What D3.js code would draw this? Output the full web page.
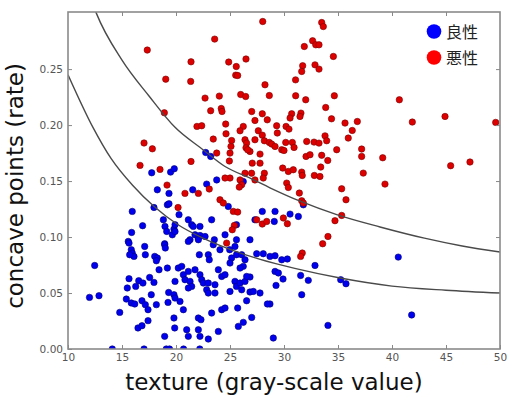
<!DOCTYPE html>
<html>
<head>
<meta charset="utf-8">
<script src="https://cdn.jsdelivr.net/npm/d3@7"></script>
<style>
  body { margin: 0; background: #fff; }
  svg { display: block; }
</style>
</head>
<body>
<div id="chart"></div>
<script>
// axis ticks
const xTicks = [10, 15, 20, 25, 30, 35, 40, 45, 50];
const yTicks = [0, 0.05, 0.10, 0.15, 0.20, 0.25];
const legendLabels = ["良性", "悪性"];

// benign (blue) points: [texture, concave points]
const benign = [
  [22.75,0.1755],[23.21,0.172],[17.75,0.1574],[19.5,0.158],[19.84,0.161],[18.27,0.1422],[19.35,0.139],
  [21.55,0.1422],[22.84,0.1473],[23.77,0.151],[26.23,0.1496],[19.2,0.1288],[19.35,0.1297],[17.96,0.1264],
  [15.95,0.1229],[16.91,0.1101],[15.89,0.1041],[19.81,0.1071],[19.66,0.102],[15.58,0.0961],[18.95,0.094],
  [24.84,0.1273],[27.99,0.1229],[27.31,0.1154],[29.1,0.1139],[25.6,0.111],[24.54,0.102],[23.55,0.0976],
  [21.14,0.1154],[21.45,0.111],[20.28,0.12],[23.3,0.1154],[26.85,0.0976],[19.91,0.111],[21.76,0.102],
  [22.22,0.1014],[22.69,0.1005],[22.07,0.0991],[21.3,0.0976],[19.91,0.105],[31.79,0.1288],[29.17,0.1229],
  [30.56,0.1205],[31.33,0.1184],[28.7,0.0827],[29.17,0.0833],[29.79,0.0797],[30.31,0.0804],[32.87,0.0746],
  [29.17,0.0693],[29.48,0.0679],[29.91,0.0625],[31.54,0.0657],[32.25,0.0613],[29.26,0.0568],[35.25,0.0619],
  [35.74,0.0583],[31.64,0.0485],[34.07,0.0211],[29.01,0.0098],[28.7,0.0402],[40.58,0.0821],[41.82,0.0304],
  [27.47,0.0851],[28.08,0.0851],[26.85,0.0643],[26.85,0.0509],[27.78,0.05],[28.46,0.0402],[27.01,0.0282],
  [12.47,0.0746],[11.99,0.0461],[12.87,0.0476],[14.79,0.0327],[15.65,0.0946],[15.86,0.0887],[15.95,0.0857],
  [16.11,0.0827],[15.71,0.0842],[17.1,0.0916],[17.16,0.0842],[18.03,0.0827],[18.27,0.0813],[18.18,0.0788],
  [18.95,0.0931],[19.01,0.0902],[18.43,0.0708],[19.2,0.0723],[15.65,0.0628],[16.55,0.061],[16.94,0.0589],
  [17.56,0.0639],[17.96,0.0595],[15.49,0.0545],[16.27,0.0559],[15.4,0.0446],[15.86,0.0411],[16.18,0.0402],
  [16.85,0.0431],[17.16,0.0396],[17.41,0.0351],[17.71,0.0485],[18.18,0.0396],[19.32,0.0505],[19.81,0.0485],
  [19.26,0.0416],[19.81,0.0277],[19.88,0.0188],[16.48,0.0188],[16.85,0.0208],[17.41,0.0253],[18.95,0.0113],
  [14.1,0.0],[17.04,0.0],[19.1,0.0],[19.4,0.0],[20.7,0.0],[22.2,0.0],
  [21.14,0.0961],[22.07,0.0976],[22.16,0.0842],[22.99,0.0842],[23.08,0.0797],[23.45,0.0931],[24.07,0.0887],
  [25.46,0.0916],[25.6,0.0842],[25.15,0.0813],[25.0,0.0768],[26.08,0.0842],[26.39,0.0797],[26.23,0.0738],
  [25.93,0.0723],[20.21,0.0723],[20.53,0.0738],[21.14,0.0693],[20.68,0.0663],[20.83,0.0619],[21.3,0.0604],
  [21.45,0.0559],[21.14,0.0545],[21.76,0.0708],[22.22,0.0663],[22.38,0.0619],[22.53,0.0589],[22.99,0.0589],
  [22.84,0.0529],[23.61,0.0574],[23.61,0.05],[22.99,0.05],[23.92,0.0708],[24.23,0.0648],[24.54,0.0663],
  [25.46,0.0604],[25.6,0.0559],[25.93,0.0589],[26.39,0.0604],[26.54,0.0648],[25.0,0.0514],[26.08,0.0529],
  [27.16,0.0514],[19.91,0.0604],[19.91,0.0455],[20.37,0.0425],[20.68,0.0351],[26.54,0.0431],[25.71,0.0366],
  [24.23,0.0351],[24.54,0.0366],[23.3,0.0321],[22.07,0.0277],[22.31,0.0262],[26.23,0.0238],[25.77,0.0202],
  [20.99,0.0172],[22.07,0.0172],[21.14,0.0113],[22.22,0.0113],[22.99,0.0089],[23.92,0.0157],
  [18.83,0.1154],[18.98,0.1095],[19.14,0.105],[21.6,0.1095],[22.22,0.1095],[25.6,0.0976],[24.97,0.0887]
];

// malignant (red) points
const malignant = [
  [17.34,0.267],[19.05,0.241],[18.92,0.211],[28.03,0.2925],[23.58,0.2768],[21.39,0.2565],[24.88,0.2563],
  [26.48,0.259],[25.58,0.2523],[25.53,0.2446],[25.71,0.2443],[21.36,0.239],[28.24,0.236],[28.64,0.2264],
  [22.69,0.2241],[24.01,0.2259],[25.99,0.2273],[26.45,0.2255],[23.21,0.2128],[24.19,0.2148],[24.26,0.2121],
  [27.01,0.2121],[27.99,0.2101],[28.45,0.2047],[27.31,0.2041],[21.94,0.1988],[22.38,0.1994],[24.6,0.2009],
  [26.23,0.1988],[17.04,0.184],[17.81,0.1788],[16.67,0.164],[18.52,0.1604],[21.39,0.1675],[19.17,0.1464],
  [20.83,0.139],[22.07,0.139],[23.08,0.1429],[23.45,0.1875],[24.63,0.1922],[23.77,0.175],[25.09,0.181],
  [25.0,0.175],[24.94,0.1679],[26.39,0.1869],[26.54,0.1839],[25.93,0.1949],[26.85,0.1764],[27.06,0.166],
  [27.0,0.157],[26.39,0.157],[25.0,0.1527],[24.54,0.1527],[25.93,0.151],[26.08,0.1467],[27.31,0.151],
  [27.62,0.1949],[27.99,0.191],[25.15,0.1862],[27.31,0.1869],[28.18,0.186],[28.64,0.1845],[26.48,0.1797],
  [26.64,0.1779],[27.78,0.1741],[27.78,0.166],[28.18,0.157],[28.08,0.1527],[25.86,0.1446],
  [20.19,0.1264],[24.07,0.1333],[24.38,0.1304],[25.31,0.1229],[25.71,0.1223],[27.47,0.1154],[27.99,0.1116],
  [28.4,0.1139],[25.4,0.1104],[25.21,0.1065],[24.69,0.0946],
  [33.49,0.2916],[33.64,0.288],[31.88,0.2702],[32.65,0.2753],[32.94,0.2717],[33.24,0.2717],[34.57,0.2613],
  [31.73,0.253],[31.64,0.2479],[32.87,0.2538],[33.24,0.25],[31.07,0.2404],[31.08,0.2262],[32.01,0.2226],
  [34.66,0.2262],[33.86,0.2157],[30.71,0.2101],[30.56,0.2063],[31.57,0.2107],[31.48,0.2077],[34.4,0.2056],
  [35.65,0.2018],[36.79,0.2032],[29.32,0.1994],[29.38,0.1929],[30.19,0.1988],[30.46,0.1964],[36.32,0.1952],
  [35.95,0.1884],[33.8,0.1904],[33.95,0.186],[28.86,0.183],[29.17,0.1809],[29.79,0.178],[30.0,0.1773],
  [30.16,0.1845],[30.77,0.1845],[30.93,0.18],[32.1,0.1854],[32.78,0.1848],[33.24,0.1839],[34.88,0.178],
  [32.04,0.172],[32.41,0.1735],[33.49,0.173],[34.05,0.1684],[37.19,0.1786],[37.19,0.172],[33.4,0.1625],
  [29.88,0.1616],[30.4,0.1586],[30.86,0.1601],[31.64,0.158],[31.69,0.155],[32.81,0.155],[33.33,0.1541],
  [37.34,0.1571],[30.25,0.1482],[30.4,0.1443],[31.42,0.1393],[31.64,0.1324],[31.79,0.1304],[35.34,0.1431],
  [35.74,0.1333],[35.34,0.1193],[34.72,0.1146],[29.94,0.117],[30.31,0.1119],[34.07,0.1005],[33.58,0.094],
  [31.69,0.0857],[31.54,0.0827],[40.68,0.2226],[44.91,0.2077],[41.88,0.2027],[49.6,0.2024],[45.43,0.1637],
  [47.22,0.167],[39.14,0.1708],[39.35,0.1473]
];

// decision boundary curves
const upperCurve = [
  [12.3,0.308],[12.62,0.300],[15,0.258],[17.5,0.226],[19.91,0.198],[22.5,0.178],[24.54,0.163],[27,0.152],
  [28.7,0.144],[31.5,0.132],[34.88,0.120],[38.89,0.109],[43,0.099],[46.5,0.092],[50,0.0866]
];
const lowerCurve = [
  [10,0.245],[12.31,0.198],[14,0.170],[16,0.146],[18,0.127],[20.19,0.111],[22.5,0.099],[25,0.089],
  [27.8,0.080],[31,0.072],[35.2,0.0634],[40,0.0562],[45,0.0525],[50,0.050]
];

const W = 509, H = 400;
const margin = {left: 68, right: 500, top: 12, bottom: 349};

const svg = d3.select("#chart").append("svg")
    .attr("width", W)
    .attr("height", H);

const x = d3.scaleLinear().domain([10, 50]).range([margin.left, margin.right]);
const y = d3.scaleLinear().domain([0, 0.301]).range([margin.bottom, margin.top]);

svg.append("defs").append("clipPath").attr("id", "plot-clip")
    .append("rect")
    .attr("x", margin.left).attr("y", margin.top)
    .attr("width", margin.right - margin.left).attr("height", margin.bottom - margin.top);

const plot = svg.append("g").attr("clip-path", "url(#plot-clip)");

// points
function drawDots(data, fill, stroke) {
    plot.append("g")
        .selectAll("circle")
        .data(data)
        .enter().append("circle")
        .attr("cx", d => x(d[0]))
        .attr("cy", d => y(d[1]))
        .attr("r", 3.2)
        .attr("fill", fill)
        .attr("stroke", stroke)
        .attr("stroke-width", 0.6);
}
drawDots(benign, "#0000ee", "#00007a");
drawDots(malignant, "#dd0000", "#7a0000");

// curves
const line = d3.line()
    .x(d => x(d[0]))
    .y(d => y(d[1]))
    .curve(d3.curveMonotoneX);

[upperCurve, lowerCurve].forEach(c => {
    plot.append("path")
        .attr("d", line(c))
        .attr("fill", "none")
        .attr("stroke", "#4a4a4a")
        .attr("stroke-width", 1.4);
});

// axes with inward ticks on all four sides
function styleAxis(g) {
    g.select(".domain").remove();
    g.selectAll(".tick line").attr("stroke", "#888").attr("stroke-width", 1);
    g.selectAll(".tick text")
        .attr("fill", "#555")
        .style("font-family", "'DejaVu Sans', sans-serif")
        .style("font-size", "10.5px");
}

svg.append("g")
    .attr("transform", "translate(0," + margin.bottom + ")")
    .call(d3.axisBottom(x).tickValues(xTicks).tickSizeInner(-4).tickSizeOuter(0)
        .tickPadding(5).tickFormat(d3.format("d")))
    .call(styleAxis);

svg.append("g")
    .attr("transform", "translate(0," + margin.top + ")")
    .call(d3.axisTop(x).tickValues(xTicks.slice(1, -1)).tickSizeInner(-4).tickSizeOuter(0).tickFormat(""))
    .call(styleAxis);

svg.append("g")
    .attr("transform", "translate(" + margin.left + ",0)")
    .call(d3.axisLeft(y).tickValues(yTicks).tickSizeInner(-4).tickSizeOuter(0)
        .tickPadding(5).tickFormat(d3.format(".2f")))
    .call(styleAxis);

svg.append("g")
    .attr("transform", "translate(" + margin.right + ",0)")
    .call(d3.axisRight(y).tickValues(yTicks.slice(1)).tickSizeInner(-4).tickSizeOuter(0).tickFormat(""))
    .call(styleAxis);

// frame
svg.append("rect")
    .attr("x", margin.left).attr("y", margin.top)
    .attr("width", margin.right - margin.left).attr("height", margin.bottom - margin.top)
    .attr("fill", "none")
    .attr("stroke", "#8a8a8a")
    .attr("stroke-width", 1.6);

// axis labels
svg.append("text")
    .attr("x", 274)
    .attr("y", 390)
    .attr("text-anchor", "middle")
    .style("font-family", "'DejaVu Sans', sans-serif")
    .style("font-size", "23px")
    .attr("fill", "#111")
    .text("texture (gray-scale value)");

svg.append("text")
    .attr("transform", "translate(23,186) rotate(-90)")
    .attr("text-anchor", "middle")
    .style("font-family", "'DejaVu Sans', sans-serif")
    .style("font-size", "23px")
    .attr("fill", "#111")
    .text("concave points (rate)");

// legend
const legendColors = ["#0000ff", "#ff0000"];
const legend = svg.append("g");
legendLabels.forEach((lab, i) => {
    const cy = 31.5 + i * 26;
    legend.append("circle")
        .attr("cx", 434).attr("cy", cy).attr("r", 7.3)
        .attr("fill", legendColors[i]);
    legend.append("text")
        .attr("x", 446).attr("y", cy + 6)
        .style("font-family", "'Noto Sans CJK JP', sans-serif")
        .style("font-size", "16px")
        .attr("fill", "#222")
        .text(lab);
});
</script>
</body>
</html>
